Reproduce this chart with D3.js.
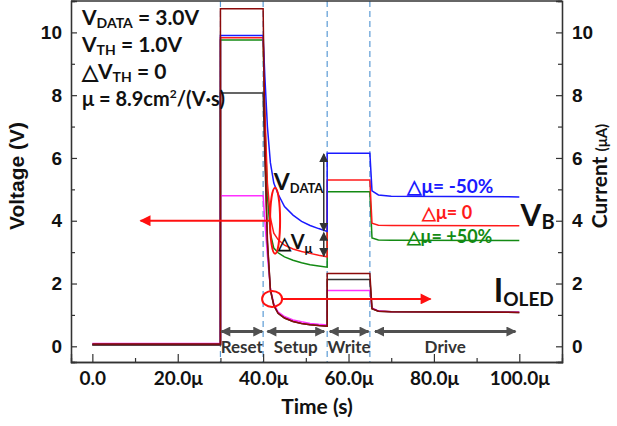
<!DOCTYPE html>
<html>
<head>
<meta charset="utf-8">
<script src="https://cdn.jsdelivr.net/npm/d3@7"></script>
<style>
  body { margin: 0; background: #fff; }
  svg { display: block; }
  .cal { font-family: Lato, "Open Sans", sans-serif; font-weight: bold; }
  .ari { font-family: "Liberation Sans", Arial, sans-serif; font-weight: bold; }
</style>
</head>
<body>
<div id="chart"></div>
<script>
// time points (us) shared by every trace
const times = [0, 30, 30, 40, 40.4, 41, 41.7, 42.5, 43.5, 45, 47, 49, 51, 53, 55, 55, 65, 65.5, 67, 70, 100];

// V_B traces
const vbMinus50 = [0.06, 0.06, 9.9, 9.9, 8.6, 7.0, 5.85, 5.2, 4.85, 4.45, 4.18, 3.98, 3.85, 3.75, 3.66, 6.15, 6.15, 4.95, 4.82, 4.78, 4.76];
const vbZero    = [0.05, 0.05, 9.83, 9.83, 7.5, 5.2, 4.1, 3.6, 3.4, 3.22, 3.1, 3.02, 2.96, 2.9, 2.85, 5.3, 5.3, 3.92, 3.86, 3.85, 3.84];
const vbPlus50  = [0.03, 0.03, 9.76, 9.76, 7.2, 4.8, 3.6, 3.13, 2.98, 2.85, 2.74, 2.66, 2.6, 2.56, 2.52, 4.92, 4.92, 3.45, 3.39, 3.38, 3.37];
// I_OLED traces
const ioledBlack   = [0.06, 0.06, 8.07, 8.07, 6.0, 3.3, 1.8, 1.3, 1.05, 0.9, 0.79, 0.73, 0.69, 0.66, 0.64, 2.13, 2.13, 1.2, 1.12, 1.1, 1.08];
const ioledDarkRed = [0.07, 0.07, 10.75, 10.75, 6.5, 3.4, 1.8, 1.3, 1.05, 0.9, 0.79, 0.73, 0.69, 0.66, 0.64, 2.32, 2.32, 1.2, 1.12, 1.1, 1.08];
const ioledMagenta = [0.09, 0.09, 4.8, 4.8, 4.0, 2.9, 1.85, 1.35, 1.1, 0.95, 0.84, 0.78, 0.73, 0.7, 0.68, 1.78, 1.78, 1.22, 1.13, 1.1, 1.09];

const phaseNames = ["Reset", "Setup", "Write", "Drive"];
const phaseStart = [30.2, 41, 55.6, 66.2];
const phaseEnd   = [39.8, 54.3, 64.7, 99.1];
const phaseLines = [30, 40, 55, 65];

const xTicks = [0, 20, 40, 60, 80, 100];
const xTickLabels = ["0.0", "20.0\u03bc", "40.0\u03bc", "60.0\u03bc", "80.0\u03bc", "100.0\u03bc"];
const yTicks = [0, 2, 4, 6, 8, 10];

const W = 617, H = 426;
const svg = d3.select("#chart").append("svg").attr("width", W).attr("height", H);

const x = d3.scaleLinear().domain([-5, 110]).range([71, 562]);
const y = d3.scaleLinear().domain([-0.5, 11]).range([362, 1]);

const defs = svg.append("defs");
function marker(id, color, w, h) {
  defs.append("marker").attr("id", id)
    .attr("viewBox", "0 0 10 10").attr("refX", 9).attr("refY", 5)
    .attr("markerUnits", "userSpaceOnUse")
    .attr("markerWidth", w).attr("markerHeight", h)
    .attr("orient", "auto-start-reverse")
    .append("path").attr("d", "M0,0 L10,5 L0,10 Z").attr("fill", color);
}
marker("arrGray", "#505050", 12, 10);
marker("arrRed", "#ff1010", 14, 11);
marker("arrBlk", "#333", 9, 9);

// dashed phase boundaries
svg.selectAll(".vline").data(phaseLines).enter().append("line")
  .attr("x1", d => x(d)).attr("x2", d => x(d))
  .attr("y1", y(11)).attr("y2", y(-0.5))
  .attr("stroke", "#5b9bd5").attr("stroke-width", 1.2).attr("stroke-dasharray", "6,4");

// traces
const line = d3.line().x((d, i) => x(times[i])).y(d => y(d));
const traces = [
  [vbPlus50, "#138a13"], [vbZero, "#ff1a1a"], [vbMinus50, "#1a1aff"],
  [ioledMagenta, "#ff30ff"], [ioledBlack, "#333333"], [ioledDarkRed, "#8b0a0a"]
];
traces.forEach(([vals, col]) => {
  svg.append("path").datum(vals).attr("d", line)
    .attr("fill", "none").attr("stroke", col).attr("stroke-width", 1.5);
});

// axes
const gL = svg.append("g").attr("transform", `translate(${x(-5)},0)`);
gL.call(d3.axisLeft(y).tickValues(yTicks).tickSize(-6).tickPadding(9).tickFormat(d3.format("d")));
svg.append("g").attr("transform", `translate(${x(-5)},0)`)
  .call(d3.axisLeft(y).tickValues([1, 3, 5, 7, 9]).tickSize(-4).tickFormat(""));
const gR = svg.append("g").attr("transform", `translate(${x(110)},0)`);
gR.call(d3.axisRight(y).tickValues(yTicks).tickSize(-6).tickPadding(10).tickFormat(d3.format("d")));
svg.append("g").attr("transform", `translate(${x(110)},0)`)
  .call(d3.axisRight(y).tickValues([1, 3, 5, 7, 9]).tickSize(-4).tickFormat(""));
const gB = svg.append("g").attr("transform", `translate(0,${y(-0.5)})`);
gB.call(d3.axisBottom(x).tickValues(xTicks).tickSize(-8).tickPadding(10).tickFormat((d, i) => xTickLabels[i]));
svg.append("g").attr("transform", `translate(0,${y(-0.5)})`)
  .call(d3.axisBottom(x).tickValues([10, 30, 50, 70, 90]).tickSize(-4).tickFormat(""));
svg.append("line").attr("x1", x(-5)).attr("x2", x(110)).attr("y1", y(11)).attr("y2", y(11))
  .attr("stroke", "#333").attr("stroke-width", 1.3);

svg.selectAll(".domain").attr("stroke", "#333").attr("stroke-width", 1.3);
svg.selectAll(".tick line").attr("stroke", "#333").attr("stroke-width", 1.2);
gL.selectAll("text").attr("class", "ari").style("font-size", "19px").attr("fill", "#111");
gR.selectAll("text").attr("class", "ari").style("font-size", "19px").attr("fill", "#111");
gB.selectAll("text").attr("class", "cal").style("font-size", "19px").attr("fill", "#111").attr("dy", "0.71em");

// axis titles
svg.append("text").attr("class", "ari").attr("transform", `translate(24,176) rotate(-90)`)
  .attr("text-anchor", "middle").style("font-size", "21px").attr("fill", "#111").text("Voltage (V)");
const ct = svg.append("text").attr("class", "cal").attr("transform", `translate(607,176) rotate(-90)`)
  .attr("text-anchor", "middle").attr("fill", "#111");
ct.append("tspan").style("font-size", "21px").text("Current ");
ct.append("tspan").style("font-size", "15px").text("(\u03bcA)");
svg.append("text").attr("class", "cal").attr("x", 317).attr("y", 414)
  .attr("text-anchor", "middle").style("font-size", "21px").attr("fill", "#111").text("Time (s)");

// phase arrows and labels
phaseNames.forEach((p, i) => {
  svg.append("line").attr("x1", x(phaseStart[i])).attr("x2", x(phaseEnd[i]))
    .attr("y1", y(0.47)).attr("y2", y(0.47))
    .attr("stroke", "#505050").attr("stroke-width", 3)
    .attr("marker-start", "url(#arrGray)").attr("marker-end", "url(#arrGray)");
  svg.append("text").attr("class", "cal").attr("x", x((phaseStart[i] + phaseEnd[i]) / 2))
    .attr("y", y(-0.2)).attr("text-anchor", "middle")
    .style("font-size", "17px").attr("fill", "#333").text(p);
});

// parameter block
function subText(xp, yp, parts, color) {
  const t = svg.append("text").attr("class", "cal").attr("x", xp).attr("y", yp).attr("fill", color || "#111");
  parts.forEach(([s, size, dy]) => {
    t.append("tspan").style("font-size", size + "px").attr("dy", dy || 0).text(s);
  });
  return t;
}
subText(82, 25, [["V", 21], ["DATA", 14, 3], [" = 3.0V", 21, -3]]);
subText(82, 52, [["V", 21], ["TH", 14, 3], [" = 1.0V", 21, -3]]);
subText(82, 79, [["\u25b3V", 21], ["TH", 14, 3], [" = 0", 21, -3]]);
subText(82, 106, [["\u03bc = 8.9cm", 20], ["2", 12, -8], ["/(V\u00b7s)", 20, 8]]);

// red ellipse, circle and arrows
svg.append("ellipse").attr("cx", x(42.8)).attr("cy", y(4.0)).attr("rx", 5).attr("ry", 33)
  .attr("fill", "none").attr("stroke", "#ff1010").attr("stroke-width", 2);
svg.append("line").attr("x1", x(41.5)).attr("x2", x(11.3)).attr("y1", y(4.0)).attr("y2", y(4.0))
  .attr("stroke", "#ff1010").attr("stroke-width", 2).attr("marker-end", "url(#arrRed)");
svg.append("ellipse").attr("cx", x(42.1)).attr("cy", y(1.51)).attr("rx", 10).attr("ry", 8)
  .attr("fill", "none").attr("stroke", "#ff1010").attr("stroke-width", 2);
svg.append("line").attr("x1", x(44.5)).attr("x2", x(79.2)).attr("y1", y(1.51)).attr("y2", y(1.51))
  .attr("stroke", "#ff1010").attr("stroke-width", 2).attr("marker-end", "url(#arrRed)");

// V_DATA and dV_mu arrows
svg.append("line").attr("x1", x(54.2)).attr("x2", x(54.2)).attr("y1", y(3.68)).attr("y2", y(6.13))
  .attr("stroke", "#333").attr("stroke-width", 1.5)
  .attr("marker-start", "url(#arrBlk)").attr("marker-end", "url(#arrBlk)");
svg.append("line").attr("x1", x(54.2)).attr("x2", x(54.2)).attr("y1", y(2.87)).attr("y2", y(3.62))
  .attr("stroke", "#333").attr("stroke-width", 1.5)
  .attr("marker-start", "url(#arrBlk)").attr("marker-end", "url(#arrBlk)");
subText(x(42.5), y(4.97), [["V", 23], ["DATA", 13, 3]]);
subText(x(43.4), y(3.1), [["\u25b3", 17], ["V", 20], ["\u03bc", 13, 4]]);

// right-side labels
subText(x(73.6), y(4.88), [["\u25b3\u03bc= -50%", 19]], "#1a1aff");
subText(x(77.2), y(4.06), [["\u25b3\u03bc= 0", 18]], "#ff1a1a");
subText(x(73.6), y(3.3), [["\u25b3\u03bc= +50%", 18]], "#138a13");
subText(x(100.3), y(3.83), [["V", 30], ["B", 20, 3]]);
subText(x(94), y(1.4), [["I", 32], ["OLED", 19, 4]]);
</script>
</body>
</html>
